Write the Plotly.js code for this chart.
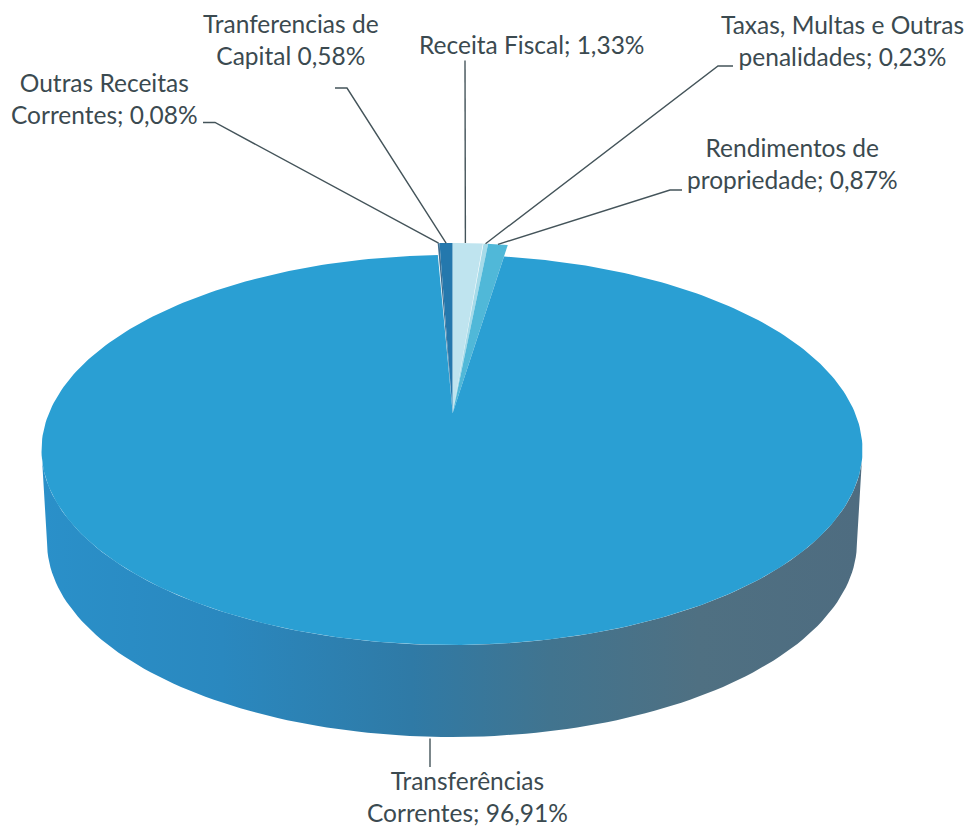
<!DOCTYPE html>
<html><head><meta charset="utf-8">
<script src="https://cdn.plot.ly/plotly-3.0.1.min.js"></script>
<style>html,body{margin:0;padding:0;background:#fff}#c{width:970px;height:826px}</style>
</head><body><div id="c"></div>
<script>
// data
var categories = ["Outras Receitas Correntes","Tranferencias de Capital","Receita Fiscal","Taxas, Multas e Outras penalidades","Rendimentos de propriedade","Transferências Correntes"];
var values = [0.08,0.58,1.33,0.23,0.87,96.91];
var valueLabels = ["0,08%","0,58%","1,33%","0,23%","0,87%","96,91%"];
var sliceColors = ["#3f6f92","#2478ad","#bfe4ef","#a6dbe9","#50b8d8","#2a9fd3"];
// styles / geometry
var W=970,H=826;
var body={cx:452,cy:450,rx:410.5,ry:195,lowCy:542,lowRx:405,lowRy:195};
var wedge={cx:452.7,cy:413,rx:362,ry:170,notch:0.945};
var labelSpec=[
 {t:"Outras Receitas<br>Correntes; ",x:104,y:98.5,elbow:[[203,122.5],[215,122.5]],tip:0.5},
 {t:"Tranferencias de<br>Capital ",x:290.5,y:39,elbow:[[335,88],[347,88]],tip:0.5},
 {t:"Receita Fiscal; ",x:531,y:44.5,elbow:[[465,60.5]],tip:0.42},
 {t:"Taxas, Multas e Outras<br>penalidades; ",x:842,y:40.5,elbow:[[733,66],[718,66]],tip:0.5},
 {t:"Rendimentos de<br>propriedade; ",x:792.5,y:163.5,elbow:[[682,190],[670,190]],tip:0.5},
 {t:"Transferências<br>Correntes; ",x:467,y:796,elbow:[[430,767]],tip:null}
];
function rng(a,b,n){var o=[];for(var i=0;i<=n;i++)o.push(a+(b-a)*i/n);return o;}
var TAU=2*Math.PI, traces=[];
// wall
var xs=[],ys=[];
rng(90,270,120).forEach(function(d){var a=d*Math.PI/180;xs.push(body.cx+body.rx*Math.sin(a));ys.push(body.cy-body.ry*Math.cos(a));});
rng(270,90,120).forEach(function(d){var a=d*Math.PI/180;xs.push(body.cx+body.lowRx*Math.sin(a));ys.push(body.lowCy-body.lowRy*Math.cos(a));});
xs.push(xs[0]);ys.push(ys[0]);
traces.push({type:"scatter",mode:"lines",x:xs,y:ys,fill:"toself",line:{width:0},
 fillcolor:"#2f7fae",
 fillgradient:{type:"horizontal",colorscale:[[0,"#2a90c9"],[0.22,"#2a88bf"],[0.45,"#2f7aa6"],[0.62,"#41748f"],[0.8,"#4f7082"],[1,"#4e6c80"]]}});
// small wedges
var start=-(values[0]+values[1])/100*TAU, ang=start;
var tips=[];
for(var i=0;i<5;i++){
  var sw=values[i]/100*TAU, px=[wedge.cx],py=[wedge.cy];
  rng(ang,ang+sw,8).forEach(function(a){px.push(wedge.cx+wedge.rx*Math.sin(a));py.push(wedge.cy-wedge.ry*Math.cos(a));});
  px.push(wedge.cx);py.push(wedge.cy);
  traces.push({type:"scatter",mode:"lines",x:px,y:py,fill:"toself",fillcolor:sliceColors[i],line:{width:0}});
  var m=ang+sw*labelSpec[i].tip;
  tips.push([wedge.cx+wedge.rx*Math.sin(m),wedge.cy-wedge.ry*Math.cos(m)]);
  ang+=sw;
}
// main slice
var end=ang;
var a0=Math.asin(wedge.notch*wedge.rx*Math.sin(end)/body.rx), a1=Math.asin(wedge.notch*wedge.rx*Math.sin(start)/body.rx)+TAU;
var mx=[wedge.cx],my=[wedge.cy];
rng(a0,a1,360).forEach(function(a){mx.push(body.cx+body.rx*Math.sin(a));my.push(body.cy-body.ry*Math.cos(a));});
mx.push(wedge.cx);my.push(wedge.cy);
traces.push({type:"scatter",mode:"lines",x:mx,y:my,fill:"toself",fillcolor:sliceColors[5],line:{width:0}});
// leaders
var tipBottom=[[430,738.5]];
labelSpec.forEach(function(s,i){
  var p=s.elbow.concat([i<5?tips[i]:tipBottom[0]]);
  traces.push({type:"scatter",mode:"lines",x:p.map(function(q){return q[0]}),y:p.map(function(q){return q[1]}),line:{color:"#44545a",width:1.4}});
});
var annotations=labelSpec.map(function(s,i){return {xref:"x",yref:"y",x:s.x,y:s.y,text:s.t+valueLabels[i],showarrow:false,align:"center",xanchor:"center",yanchor:"middle",
  font:{family:"Lato, 'Open Sans', sans-serif",size:24.5,color:"#3b4a50"}};});
Plotly.newPlot("c",traces,{width:W,height:H,margin:{l:0,r:0,t:0,b:0},paper_bgcolor:"#fff",plot_bgcolor:"#fff",showlegend:false,
 xaxis:{range:[0,W],visible:false,fixedrange:true},yaxis:{range:[H,0],visible:false,fixedrange:true},annotations:annotations,hovermode:false},{displayModeBar:false,staticPlot:true});
</script></body></html>
